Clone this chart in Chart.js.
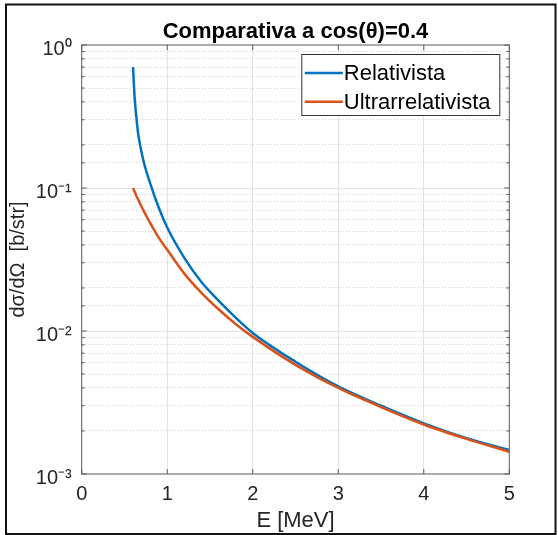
<!DOCTYPE html>
<html>
<head>
<meta charset="utf-8">
<script src="https://cdn.jsdelivr.net/npm/chart.js@4/dist/chart.umd.min.js"></script>
<style>
  html, body { margin: 0; padding: 0; background: #fff; }
  canvas { display: block; }
</style>
</head>
<body>
<canvas id="comparativaChart" width="558" height="535"></canvas>
<script>
// values
const energia = [0.6, 0.62, 0.64, 0.66, 0.72, 0.8, 0.9, 1.0, 1.2, 1.4, 1.6, 1.8, 2.0, 2.5, 3.0, 3.5, 4.0, 4.5, 5.0];
const relativista = [0.70, 0.42, 0.31, 0.24, 0.157, 0.108, 0.073, 0.053, 0.0325, 0.022, 0.0163, 0.0124, 0.0097, 0.0061, 0.0041, 0.0030, 0.00226, 0.00178, 0.00147];
const ultrarrelativista = [0.100, 0.094, 0.088, 0.083, 0.070, 0.057, 0.045, 0.037, 0.0252, 0.0185, 0.0142, 0.0112, 0.0091, 0.0058, 0.0040, 0.00294, 0.00222, 0.00176, 0.00143];
const seriesLabels = ['Relativista', 'Ultrarrelativista'];
const xTicks = [0, 1, 2, 3, 4, 5];
const chartTitle = 'Comparativa a cos(\u03B8)=0.4';

const FONT = "'Liberation Sans', Arial, Helvetica, sans-serif";
const BLUE = '#0072BD';
const ORANGE = '#D95319';
const AXIS = '#5a5a5a';

const SUP = { '0': '\u2070', '1': '\u00B9', '2': '\u00B2', '3': '\u00B3', '-': '\u207B' };

function isDecade(v) {
    const l = Math.log10(v);
    return Math.abs(l - Math.round(l)) < 1e-9;
}

function toPoints(xs, ys) {
    return xs.map((x, i) => ({ x: x, y: ys[i] }));
}

// white background, title over the axes, axes box, inner tick marks, legend and figure frame
const matlabLook = {
    id: 'matlabLook',
    beforeDraw(chart) {
        const ctx = chart.ctx;
        ctx.save();
        ctx.fillStyle = '#fff';
        ctx.fillRect(0, 0, chart.width, chart.height);
        ctx.restore();
    },
    afterDatasetsDraw(chart) {
        const { ctx, chartArea: a, scales: { x, y } } = chart;
        ctx.save();
        ctx.strokeStyle = AXIS;
        ctx.lineWidth = 1;
        ctx.strokeRect(a.left, a.top, a.right - a.left, a.bottom - a.top);

        ctx.beginPath();
        x.ticks.forEach(t => {
            const px = x.getPixelForValue(t.value);
            ctx.moveTo(px, a.bottom); ctx.lineTo(px, a.bottom - 5);
            ctx.moveTo(px, a.top); ctx.lineTo(px, a.top + 5);
        });
        y.ticks.forEach(t => {
            const py = y.getPixelForValue(t.value);
            const len = isDecade(t.value) ? 5 : 3;
            ctx.moveTo(a.left, py); ctx.lineTo(a.left + len, py);
            ctx.moveTo(a.right, py); ctx.lineTo(a.right - len, py);
        });
        ctx.stroke();

        // title centred over the axes
        ctx.fillStyle = '#000';
        ctx.font = 'bold 22px ' + FONT;
        ctx.textAlign = 'center';
        ctx.textBaseline = 'alphabetic';
        ctx.fillText(chartTitle, (a.left + a.right) / 2, a.top - 7);

        // legend box in the upper right corner of the axes
        const boxW = 198, boxH = 61;
        const bx = a.right - 9.5 - boxW;
        const by = a.top + 9.5;
        ctx.fillStyle = '#fff';
        ctx.fillRect(bx, by, boxW, boxH);
        ctx.strokeStyle = '#333';
        ctx.strokeRect(bx, by, boxW, boxH);
        ctx.font = '22px ' + FONT;
        ctx.textBaseline = 'middle';
        ctx.textAlign = 'left';
        chart.data.datasets.forEach((ds, i) => {
            const cy = by + 18.5 + i * 28.7;
            ctx.strokeStyle = ds.borderColor;
            ctx.lineWidth = 2.5;
            ctx.beginPath();
            ctx.moveTo(bx + 3, cy);
            ctx.lineTo(bx + 41, cy);
            ctx.stroke();
            ctx.fillStyle = '#000';
            ctx.fillText(ds.label, bx + 42, cy + 1);
        });
        ctx.restore();
    },
    afterDraw(chart) {
        const ctx = chart.ctx;
        ctx.save();
        ctx.strokeStyle = '#111';
        ctx.lineWidth = 2;
        ctx.strokeRect(6, 4.5, 549.5, 529.5);
        ctx.restore();
    }
};

const ctx = document.getElementById('comparativaChart').getContext('2d');
new Chart(ctx, {
    type: 'line',
    data: {
        datasets: [{
            label: seriesLabels[0],
            data: toPoints(energia, relativista),
            borderColor: BLUE,
            borderWidth: 2.5,
            pointRadius: 0,
            cubicInterpolationMode: 'monotone',
            order: 1
        }, {
            label: seriesLabels[1],
            data: toPoints(energia, ultrarrelativista),
            borderColor: ORANGE,
            borderWidth: 2.5,
            pointRadius: 0,
            cubicInterpolationMode: 'monotone',
            order: 0
        }]
    },
    options: {
        responsive: false,
        animation: false,
        layout: {
            padding: { top: 45, right: 48.7, bottom: 0, left: 0 }
        },
        plugins: {
            legend: { display: false },
            tooltip: { enabled: false },
            title: { display: false }
        },
        scales: {
            x: {
                type: 'linear',
                min: 0,
                max: 5,
                afterBuildTicks: scale => {
                    scale.ticks = xTicks.map(v => ({ value: v }));
                },
                afterFit: scale => { scale.height = 61; },
                ticks: {
                    color: '#262626',
                    font: { family: FONT, size: 20 },
                    padding: 8,
                    maxRotation: 0
                },
                grid: {
                    drawTicks: false,
                    color: c => (c.tick && c.tick.value > 0 && c.tick.value < 5) ? '#e3e3e3' : 'rgba(0,0,0,0)'
                },
                border: { display: false },
                title: {
                    display: true,
                    text: 'E [MeV]',
                    color: '#262626',
                    font: { family: FONT, size: 22 },
                    padding: { top: 0, bottom: 1 }
                }
            },
            y: {
                type: 'logarithmic',
                min: 0.001,
                max: 1,
                afterFit: scale => { scale.width = 81.7; },
                ticks: {
                    autoSkip: false,
                    color: '#262626',
                    font: { family: FONT, size: 20 },
                    padding: 10,
                    labelOffset: 4,
                    callback: value => {
                        if (!isDecade(value)) return '';
                        const exp = String(Math.round(Math.log10(value)));
                        return '10' + exp.split('').map(ch => SUP[ch]).join('');
                    }
                },
                grid: {
                    drawTicks: false,
                    color: c => {
                        if (!c.tick) return 'rgba(0,0,0,0)';
                        const v = c.tick.value;
                        if (v <= 0.001 || v >= 1) return 'rgba(0,0,0,0)';
                        return isDecade(v) ? '#e3e3e3' : '#d2d2d2';
                    }
                },
                border: {
                    display: false,
                    dash: c => (c.tick && !isDecade(c.tick.value)) ? [1, 2] : []
                },
                title: {
                    display: true,
                    text: 'd\u03C3/d\u03A9  [b/str]',
                    color: '#262626',
                    font: { family: FONT, size: 20 },
                    padding: { top: 6, bottom: 0 }
                }
            }
        }
    },
    plugins: [matlabLook]
});
</script>
</body>
</html>
